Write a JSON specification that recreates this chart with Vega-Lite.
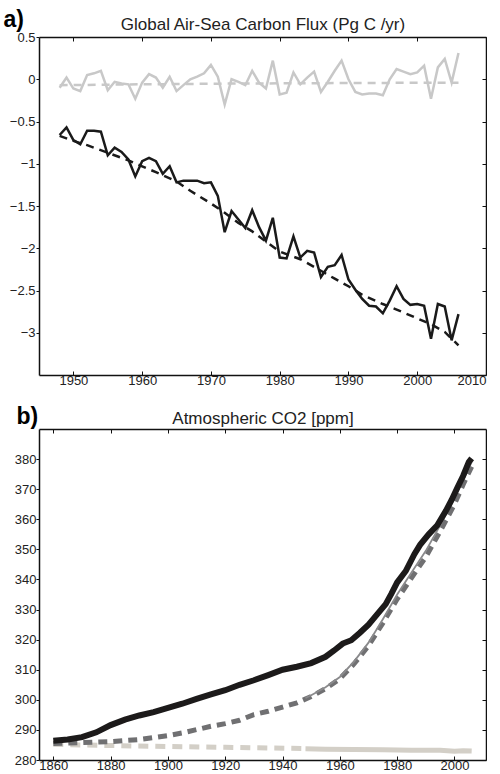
{
  "$schema": "https://vega.github.io/schema/vega-lite/v6.json",
  "background": "white",
  "padding": {"left": 3, "top": 8, "right": 0, "bottom": 0},
  "spacing": 18,
  "config": {
    "font": "Liberation Sans",
    "view": {"stroke": null},
    "axis": {
      "labelFont": "Liberation Sans",
      "labelFontSize": 13,
      "labelColor": "#222222",
      "tickColor": "#111111",
      "domainColor": "#111111",
      "domainWidth": 1.5,
      "grid": false,
      "titleFont": "Liberation Sans",
      "titleColor": "#222222"
    }
  },
  "datasets": {
    "aBlack": [
      {"year": 1948, "value": -0.66}, {"year": 1949, "value": -0.57}, {"year": 1950, "value": -0.72},
      {"year": 1951, "value": -0.77}, {"year": 1952, "value": -0.61}, {"year": 1953, "value": -0.61},
      {"year": 1954, "value": -0.62}, {"year": 1955, "value": -0.90}, {"year": 1956, "value": -0.81},
      {"year": 1957, "value": -0.86}, {"year": 1958, "value": -0.95}, {"year": 1959, "value": -1.15},
      {"year": 1960, "value": -0.97}, {"year": 1961, "value": -0.93}, {"year": 1962, "value": -0.97},
      {"year": 1963, "value": -1.12}, {"year": 1964, "value": -1.03}, {"year": 1965, "value": -1.22},
      {"year": 1966, "value": -1.20}, {"year": 1967, "value": -1.20}, {"year": 1968, "value": -1.20},
      {"year": 1969, "value": -1.23}, {"year": 1970, "value": -1.22}, {"year": 1971, "value": -1.38},
      {"year": 1972, "value": -1.81}, {"year": 1973, "value": -1.56}, {"year": 1974, "value": -1.66},
      {"year": 1975, "value": -1.76}, {"year": 1976, "value": -1.55}, {"year": 1977, "value": -1.75},
      {"year": 1978, "value": -1.91}, {"year": 1979, "value": -1.64}, {"year": 1980, "value": -2.11},
      {"year": 1981, "value": -2.12}, {"year": 1982, "value": -1.86}, {"year": 1983, "value": -2.11},
      {"year": 1984, "value": -2.03}, {"year": 1985, "value": -2.05}, {"year": 1986, "value": -2.34},
      {"year": 1987, "value": -2.22}, {"year": 1988, "value": -2.20}, {"year": 1989, "value": -2.08},
      {"year": 1990, "value": -2.37}, {"year": 1991, "value": -2.49}, {"year": 1992, "value": -2.60},
      {"year": 1993, "value": -2.68}, {"year": 1994, "value": -2.69}, {"year": 1995, "value": -2.77},
      {"year": 1996, "value": -2.62}, {"year": 1997, "value": -2.45}, {"year": 1998, "value": -2.60},
      {"year": 1999, "value": -2.67}, {"year": 2000, "value": -2.66}, {"year": 2001, "value": -2.68},
      {"year": 2002, "value": -3.07}, {"year": 2003, "value": -2.66}, {"year": 2004, "value": -2.69},
      {"year": 2005, "value": -3.09}, {"year": 2006, "value": -2.78}
    ],
    "aBlackFit": [
      {"year": 1948, "value": -0.67}, {"year": 1950, "value": -0.73}, {"year": 1952, "value": -0.78},
      {"year": 1955, "value": -0.87}, {"year": 1958, "value": -0.96}, {"year": 1960, "value": -1.03},
      {"year": 1962, "value": -1.10}, {"year": 1965, "value": -1.21}, {"year": 1967, "value": -1.32},
      {"year": 1970, "value": -1.47}, {"year": 1972, "value": -1.58}, {"year": 1974, "value": -1.70},
      {"year": 1976, "value": -1.80}, {"year": 1978, "value": -1.92}, {"year": 1980, "value": -2.04},
      {"year": 1983, "value": -2.13}, {"year": 1985, "value": -2.22}, {"year": 1988, "value": -2.36},
      {"year": 1990, "value": -2.45}, {"year": 1992, "value": -2.55}, {"year": 1995, "value": -2.66},
      {"year": 1998, "value": -2.76}, {"year": 2000, "value": -2.83}, {"year": 2002, "value": -2.90},
      {"year": 2004, "value": -2.99}, {"year": 2006, "value": -3.15}
    ],
    "aGray": [
      {"year": 1948, "value": -0.10}, {"year": 1949, "value": 0.02}, {"year": 1950, "value": -0.11},
      {"year": 1951, "value": -0.14}, {"year": 1952, "value": 0.05}, {"year": 1953, "value": 0.07},
      {"year": 1954, "value": 0.10}, {"year": 1955, "value": -0.13}, {"year": 1956, "value": -0.03},
      {"year": 1957, "value": -0.05}, {"year": 1958, "value": -0.06}, {"year": 1959, "value": -0.23},
      {"year": 1960, "value": -0.04}, {"year": 1961, "value": 0.06}, {"year": 1962, "value": 0.02},
      {"year": 1963, "value": -0.10}, {"year": 1964, "value": 0.03}, {"year": 1965, "value": -0.14},
      {"year": 1966, "value": -0.07}, {"year": 1967, "value": 0.00}, {"year": 1968, "value": 0.03},
      {"year": 1969, "value": 0.07}, {"year": 1970, "value": 0.17}, {"year": 1971, "value": 0.03},
      {"year": 1972, "value": -0.30}, {"year": 1973, "value": 0.00}, {"year": 1974, "value": -0.03},
      {"year": 1975, "value": -0.07}, {"year": 1976, "value": 0.10}, {"year": 1977, "value": -0.04},
      {"year": 1978, "value": -0.11}, {"year": 1979, "value": 0.22}, {"year": 1980, "value": -0.18},
      {"year": 1981, "value": -0.16}, {"year": 1982, "value": 0.08}, {"year": 1983, "value": -0.06},
      {"year": 1984, "value": 0.02}, {"year": 1985, "value": 0.09}, {"year": 1986, "value": -0.15},
      {"year": 1987, "value": -0.03}, {"year": 1988, "value": 0.10}, {"year": 1989, "value": 0.22},
      {"year": 1990, "value": 0.00}, {"year": 1991, "value": -0.15}, {"year": 1992, "value": -0.18},
      {"year": 1993, "value": -0.17}, {"year": 1994, "value": -0.17}, {"year": 1995, "value": -0.19},
      {"year": 1996, "value": 0.00}, {"year": 1997, "value": 0.12}, {"year": 1998, "value": 0.09},
      {"year": 1999, "value": 0.06}, {"year": 2000, "value": 0.08}, {"year": 2001, "value": 0.16},
      {"year": 2002, "value": -0.23}, {"year": 2003, "value": 0.14}, {"year": 2004, "value": 0.24},
      {"year": 2005, "value": -0.04}, {"year": 2006, "value": 0.31}
    ],
    "aGrayFit": [
      {"year": 1948, "value": -0.07}, {"year": 1960, "value": -0.06}, {"year": 1975, "value": -0.05},
      {"year": 1990, "value": -0.045}, {"year": 2006, "value": -0.04}
    ],
    "bBlack": [
      {"year": 1860, "value": 286.4}, {"year": 1865, "value": 286.8}, {"year": 1870, "value": 287.6},
      {"year": 1875, "value": 289.2}, {"year": 1880, "value": 291.6}, {"year": 1885, "value": 293.4},
      {"year": 1890, "value": 294.8}, {"year": 1895, "value": 295.9}, {"year": 1900, "value": 297.3},
      {"year": 1905, "value": 298.7}, {"year": 1910, "value": 300.3}, {"year": 1915, "value": 301.8},
      {"year": 1920, "value": 303.2}, {"year": 1925, "value": 305.0}, {"year": 1930, "value": 306.5},
      {"year": 1935, "value": 308.2}, {"year": 1940, "value": 310.0}, {"year": 1945, "value": 311.0},
      {"year": 1950, "value": 312.2}, {"year": 1955, "value": 314.3}, {"year": 1958, "value": 316.4},
      {"year": 1961, "value": 318.7}, {"year": 1964, "value": 319.8}, {"year": 1967, "value": 322.3},
      {"year": 1970, "value": 325.0}, {"year": 1973, "value": 328.4}, {"year": 1976, "value": 331.8},
      {"year": 1978, "value": 335.3}, {"year": 1980, "value": 339.0}, {"year": 1983, "value": 342.8},
      {"year": 1986, "value": 348.4}, {"year": 1988, "value": 351.5}, {"year": 1991, "value": 355.0},
      {"year": 1994, "value": 358.0}, {"year": 1997, "value": 362.8}, {"year": 1999, "value": 366.4},
      {"year": 2001, "value": 370.5}, {"year": 2003, "value": 374.4}, {"year": 2005, "value": 379.0},
      {"year": 2006, "value": 380.2}
    ],
    "bGrayDash": [
      {"year": 1860, "value": 285.5}, {"year": 1870, "value": 285.8}, {"year": 1880, "value": 286.1},
      {"year": 1890, "value": 286.8}, {"year": 1900, "value": 288.1}, {"year": 1905, "value": 289.0},
      {"year": 1910, "value": 290.1}, {"year": 1915, "value": 291.2}, {"year": 1920, "value": 292.1},
      {"year": 1925, "value": 293.2}, {"year": 1930, "value": 295.1}, {"year": 1935, "value": 296.2},
      {"year": 1940, "value": 297.6}, {"year": 1945, "value": 299.0}, {"year": 1950, "value": 301.1},
      {"year": 1955, "value": 303.7}, {"year": 1960, "value": 307.0}, {"year": 1965, "value": 312.0},
      {"year": 1970, "value": 318.0}, {"year": 1975, "value": 325.5}, {"year": 1980, "value": 333.5},
      {"year": 1985, "value": 340.5}, {"year": 1990, "value": 347.5}, {"year": 1995, "value": 356.0},
      {"year": 2000, "value": 365.0}, {"year": 2003, "value": 371.5}, {"year": 2006, "value": 377.5}
    ],
    "bGrayThin": [
      {"year": 1948, "value": 300.6}, {"year": 1950, "value": 301.5}, {"year": 1955, "value": 304.2},
      {"year": 1960, "value": 307.6}, {"year": 1965, "value": 312.8}, {"year": 1970, "value": 319.0},
      {"year": 1975, "value": 326.8}, {"year": 1980, "value": 335.0}, {"year": 1985, "value": 342.3},
      {"year": 1990, "value": 349.5}, {"year": 1995, "value": 358.0}, {"year": 2000, "value": 367.0},
      {"year": 2003, "value": 373.0}, {"year": 2006, "value": 379.0}
    ],
    "bBeigeDash": [
      {"year": 1860, "value": 285.2}, {"year": 1880, "value": 284.8}, {"year": 1900, "value": 284.5},
      {"year": 1920, "value": 284.2}, {"year": 1948, "value": 283.8}
    ],
    "bBeige": [
      {"year": 1948, "value": 283.7}, {"year": 1955, "value": 283.6}, {"year": 1965, "value": 283.5},
      {"year": 1975, "value": 283.4}, {"year": 1985, "value": 283.2}, {"year": 1995, "value": 283.2},
      {"year": 2000, "value": 282.9}, {"year": 2003, "value": 283.1}, {"year": 2006, "value": 283.0}
    ]
  },
  "vconcat": [
    {
      "width": 447,
      "height": 338,
      "resolve": {"axis": {"x": "independent", "y": "independent"}},
      "layer": [
        {
          "data": {"name": "aGray"},
          "mark": {"type": "line", "color": "#c8c8c8", "strokeWidth": 2.5},
          "encoding": {
            "x": {"field": "year", "type": "quantitative",
              "scale": {"domain": [1945, 2010], "nice": false, "zero": false},
              "axis": {"orient": "bottom", "values": [1950, 1960, 1970, 1980, 1990, 2000, 2010], "format": "d",
                "tickSize": -4, "labelPadding": 3, "title": null}},
            "y": {"field": "value", "type": "quantitative",
              "scale": {"domain": [-3.5, 0.5], "nice": false, "zero": false},
              "axis": {"orient": "left", "values": [-3, -2.5, -2, -1.5, -1, -0.5, 0, 0.5], "format": "~g",
                "tickSize": 3, "labelPadding": 1,
                "title": "a)", "titleAngle": 0, "titleX": -36, "titleY": -11, "titleAlign": "left",
                "titleBaseline": "alphabetic", "titleFontSize": 23, "titleFontWeight": "bold", "titleColor": "#000000"}}
          }
        },
        {
          "data": {"name": "aGrayFit"},
          "mark": {"type": "line", "color": "#c8c8c8", "strokeWidth": 2.5, "strokeDash": [8, 6]},
          "encoding": {
            "x": {"field": "year", "type": "quantitative", "axis": null},
            "y": {"field": "value", "type": "quantitative", "axis": null}
          }
        },
        {
          "data": {"name": "aBlack"},
          "mark": {"type": "line", "color": "#1a1a1a", "strokeWidth": 2.5},
          "encoding": {
            "x": {"field": "year", "type": "quantitative", "axis": null},
            "y": {"field": "value", "type": "quantitative", "axis": null}
          }
        },
        {
          "data": {"name": "aBlackFit"},
          "mark": {"type": "line", "color": "#1a1a1a", "strokeWidth": 2.5, "strokeDash": [8, 6]},
          "encoding": {
            "x": {"field": "year", "type": "quantitative",
              "axis": {"orient": "top", "values": [1950, 1960, 1970, 1980, 1990, 2000, 2010], "labels": false,
                "tickSize": -4, "title": "Global Air-Sea Carbon Flux (Pg C /yr)", "titleFontSize": 17,
                "titleFontWeight": "normal", "titleY": -8, "titleBaseline": "alphabetic"}},
            "y": {"field": "value", "type": "quantitative",
              "axis": {"orient": "right", "values": [-3, -2.5, -2, -1.5, -1, -0.5, 0, 0.5], "labels": false,
                "tickSize": -4, "title": null}}
          }
        }
      ]
    },
    {
      "width": 447,
      "height": 331,
      "resolve": {"axis": {"x": "independent", "y": "independent"}},
      "layer": [
        {
          "data": {"name": "bBeigeDash"},
          "mark": {"type": "line", "color": "#d3cfc7", "strokeWidth": 5, "strokeDash": [10, 7]},
          "encoding": {
            "x": {"field": "year", "type": "quantitative",
              "scale": {"domain": [1855, 2011], "nice": false, "zero": false},
              "axis": {"orient": "bottom", "values": [1860, 1880, 1900, 1920, 1940, 1960, 1980, 2000], "format": "d",
                "tickSize": -4, "labelPadding": 3, "title": null}},
            "y": {"field": "value", "type": "quantitative",
              "scale": {"domain": [280, 390], "nice": false, "zero": false},
              "axis": {"orient": "left", "values": [280, 290, 300, 310, 320, 330, 340, 350, 360, 370, 380], "format": "d",
                "tickSize": 3, "labelPadding": 0,
                "title": "b)", "titleAngle": 0, "titleX": -23, "titleY": -6, "titleAlign": "left",
                "titleBaseline": "alphabetic", "titleFontSize": 23, "titleFontWeight": "bold", "titleColor": "#000000"}}
          }
        },
        {
          "data": {"name": "bBeige"},
          "mark": {"type": "line", "color": "#d3cfc7", "strokeWidth": 5},
          "encoding": {
            "x": {"field": "year", "type": "quantitative", "axis": null},
            "y": {"field": "value", "type": "quantitative", "axis": null}
          }
        },
        {
          "data": {"name": "bGrayDash"},
          "mark": {"type": "line", "color": "#707072", "strokeWidth": 5, "strokeDash": [9, 6]},
          "encoding": {
            "x": {"field": "year", "type": "quantitative", "axis": null},
            "y": {"field": "value", "type": "quantitative", "axis": null}
          }
        },
        {
          "data": {"name": "bGrayThin"},
          "mark": {"type": "line", "color": "#8a8a8c", "strokeWidth": 1.8},
          "encoding": {
            "x": {"field": "year", "type": "quantitative", "axis": null},
            "y": {"field": "value", "type": "quantitative", "axis": null}
          }
        },
        {
          "data": {"name": "bBlack"},
          "mark": {"type": "line", "color": "#1c1a1a", "strokeWidth": 6},
          "encoding": {
            "x": {"field": "year", "type": "quantitative",
              "axis": {"orient": "top", "values": [1860, 1880, 1900, 1920, 1940, 1960, 1980, 2000], "labels": false,
                "tickSize": -4, "title": "Atmospheric CO2 [ppm]", "titleFontSize": 17,
                "titleFontWeight": "normal", "titleY": -6, "titleBaseline": "alphabetic"}},
            "y": {"field": "value", "type": "quantitative",
              "axis": {"orient": "right", "values": [280, 290, 300, 310, 320, 330, 340, 350, 360, 370, 380], "labels": false,
                "tickSize": -4, "title": null}}
          }
        }
      ]
    }
  ]
}
